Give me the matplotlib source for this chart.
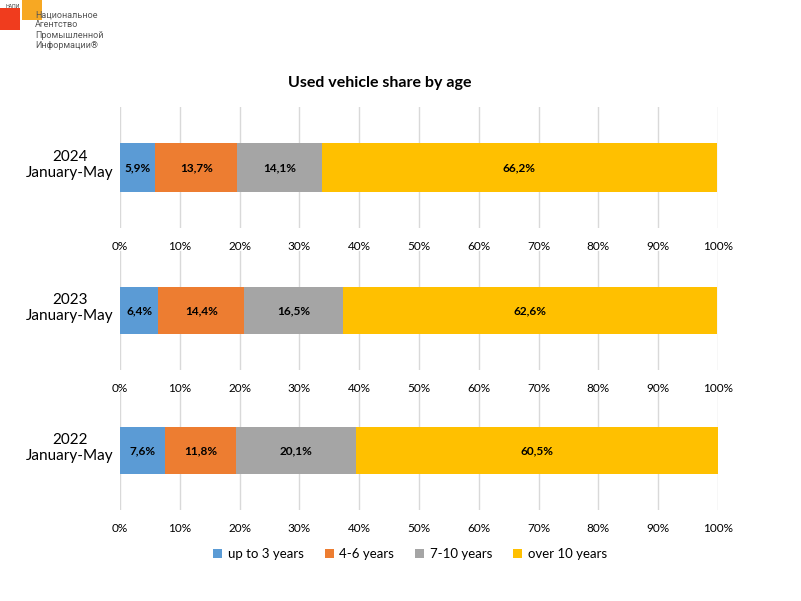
import matplotlib
matplotlib.use("Agg")
import matplotlib.pyplot as plt
from matplotlib.patches import Rectangle, Patch

plt.rcParams['font.family'] = ['Lato', 'DejaVu Sans']

periods = ["2024\nJanuary-May", "2023\nJanuary-May", "2022\nJanuary-May"]
series = ["up to 3 years", "4-6 years", "7-10 years", "over 10 years"]
colors = ["#5B9BD5", "#ED7D31", "#A5A5A5", "#FFC000"]
v2024 = [5.9, 13.7, 14.1, 66.2]
v2023 = [6.4, 14.4, 16.5, 62.6]
v2022 = [7.6, 11.8, 20.1, 60.5]
values = [v2024, v2023, v2022]
ticks = [0, 10, 20, 30, 40, 50, 60, 70, 80, 90, 100]
tick_labels = [f"{t}%" for t in ticks]

W, H = 801, 601
fig = plt.figure(figsize=(W / 100, H / 100), dpi=100)

# panel pixel extents (top, bottom)
panels = [(107, 228), (251, 370), (391, 510)]
left, right = 120, 718

for (top, bot), label, vals in zip(panels, periods, values):
    ax = fig.add_axes([left / W, 1 - bot / H, (right - left) / W, (bot - top) / H])
    ax.patch.set_visible(False)
    start = 0
    for v, c in zip(vals, colors):
        ax.barh(0, v, left=start, height=0.4, color=c, zorder=3)
        ax.text(start + v / 2, 0, f"{v:.1f}%".replace(".", ","), ha="center", va="center",
                fontsize=8.5, fontweight="bold", color="black", zorder=4)
        start += v
    ax.set_xlim(0, 100)
    ax.set_ylim(-0.5, 0.5)
    ax.set_xticks(ticks)
    ax.set_xticklabels(tick_labels, fontsize=8.5)
    ax.tick_params(axis="x", length=0, pad=9)
    ax.set_yticks([])
    ax.grid(axis="x", color="#D9D9D9", linewidth=1, zorder=0)
    for s in ax.spines.values():
        s.set_visible(False)
    ax.text(-8.4, 0.02, label, ha="center", va="center", fontsize=11, color="#000000",
            linespacing=1.25)

fig.text(380 / W, 1 - 83 / H, "Used vehicle share by age", ha="center", va="center",
         fontsize=11.5, fontweight="bold")

handles = [Patch(facecolor=c, edgecolor="none") for c in colors]
fig.legend(handles, series, loc="center", bbox_to_anchor=(410 / W, 1 - 554 / H),
           ncol=4, frameon=False, fontsize=9.5, handlelength=0.7, handleheight=0.7,
           columnspacing=1.6, handletextpad=0.4)

# logo
fig.patches.append(Rectangle((0, 1 - 30 / H), 20 / W, 22 / H, transform=fig.transFigure,
                             facecolor="#F03C1E", edgecolor="none"))
fig.patches.append(Rectangle((22 / W, 1 - 20 / H), 20 / W, 20 / H, transform=fig.transFigure,
                             facecolor="#F7A823", edgecolor="none"))
fig.text(5 / W, 1 - 6 / H, "НАПИ", fontsize=3.5, color="#333333", va="center")
fig.text(35 / W, 1 - 30 / H, "Национальное\nАгентство\nПромышленной\nИнформации®",
         fontsize=6.5, color="#555555", va="center", ha="left", linespacing=1.15,
         family=['Roboto', 'DejaVu Sans'])

fig.savefig("out.png", dpi=100)
